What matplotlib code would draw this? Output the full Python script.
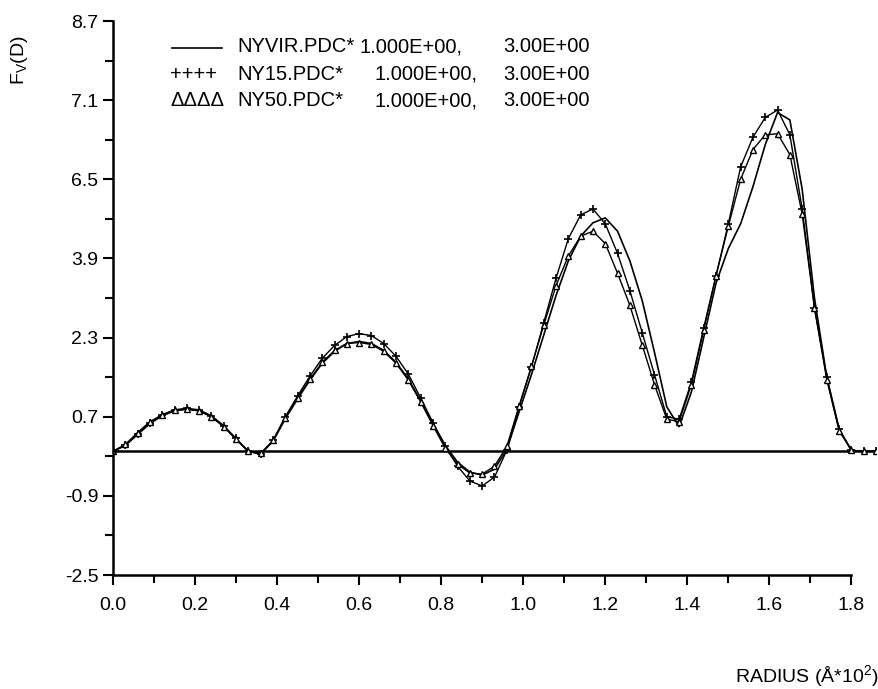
import numpy as np
import matplotlib
matplotlib.use('Agg')
from matplotlib import pyplot as plt
from matplotlib.lines import Line2D

plt.rcParams['font.family'] = ['Liberation Sans', 'DejaVu Sans']

# radius (A*10^2), sampled every 0.03
radius = [0.00, 0.03, 0.06, 0.09, 0.12, 0.15, 0.18, 0.21, 0.24, 0.27,
          0.30, 0.33, 0.36, 0.39, 0.42, 0.45, 0.48, 0.51, 0.54, 0.57,
          0.60, 0.63, 0.66, 0.69, 0.72, 0.75, 0.78, 0.81, 0.84, 0.87,
          0.90, 0.93, 0.96, 0.99, 1.02, 1.05, 1.08, 1.11, 1.14, 1.17,
          1.20, 1.23, 1.26, 1.29, 1.32, 1.35, 1.38, 1.41, 1.44, 1.47,
          1.50, 1.53, 1.56, 1.59, 1.62, 1.65, 1.68, 1.71, 1.74, 1.77,
          1.80, 1.83, 1.86]

nyvir = [0.00, 0.12, 0.34, 0.56, 0.72, 0.82, 0.85, 0.82, 0.70, 0.50,
         0.25, 0.00, -0.05, 0.20, 0.66, 1.06, 1.44, 1.78, 2.02, 2.18,
         2.22, 2.18, 2.04, 1.80, 1.46, 1.02, 0.56, 0.12, -0.22, -0.42,
         -0.48, -0.36, 0.04, 0.80, 1.55, 2.35, 3.15, 3.85, 4.35, 4.62,
         4.72, 4.45, 3.85, 3.05, 2.00, 0.90, 0.50, 1.20, 2.30, 3.40,
         4.10, 4.60, 5.35, 6.20, 6.85, 6.70, 5.30, 3.10, 1.50, 0.45,
         0.02, 0.00, 0.00]

ny15 = [0.00, 0.12, 0.36, 0.58, 0.74, 0.84, 0.87, 0.84, 0.72, 0.52,
        0.26, 0.00, -0.06, 0.22, 0.70, 1.12, 1.52, 1.88, 2.14, 2.32,
        2.38, 2.34, 2.18, 1.92, 1.56, 1.08, 0.58, 0.10, -0.30, -0.60,
        -0.70, -0.52, 0.02, 0.90, 1.70, 2.60, 3.50, 4.30, 4.78, 4.90,
        4.60, 4.00, 3.25, 2.40, 1.55, 0.70, 0.65, 1.40, 2.50, 3.55,
        4.60, 5.75, 6.35, 6.75, 6.90, 6.40, 4.90, 2.90, 1.50, 0.45,
        0.02, 0.00, 0.00]

ny50 = [0.00, 0.14, 0.38, 0.60, 0.74, 0.83, 0.86, 0.82, 0.70, 0.50,
        0.24, 0.00, -0.04, 0.22, 0.68, 1.08, 1.46, 1.80, 2.04, 2.18,
        2.20, 2.16, 2.02, 1.78, 1.44, 1.00, 0.52, 0.06, -0.26, -0.44,
        -0.46, -0.30, 0.10, 0.92, 1.72, 2.55, 3.35, 3.95, 4.35, 4.45,
        4.20, 3.60, 2.95, 2.15, 1.35, 0.65, 0.60, 1.35, 2.45, 3.55,
        4.55, 5.50, 6.10, 6.40, 6.42, 6.00, 4.80, 2.90, 1.45, 0.42,
        0.02, 0.00, 0.00]

ytick_vals = [-2.5, -0.9, 0.7, 2.3, 3.9, 5.5, 7.1, 8.7]
ytick_labels = ['-2.5', '-0.9', '0.7', '2.3', '3.9', '6.5', '7.1', '8.7']
xtick_vals = [0.0, 0.2, 0.4, 0.6, 0.8, 1.0, 1.2, 1.4, 1.6, 1.8]

W, H = 879, 689
fig = plt.figure(figsize=(W / 100, H / 100), dpi=100)
ax = fig.add_axes([113 / W, 114 / H, (876 - 113) / W, (575 - 21) / H])

ax.axhline(0, color='black', lw=1.8)
ax.plot(radius, nyvir, color='black', lw=1.2)
ax.plot(radius, ny15, color='black', lw=1.0, marker='+', ms=6, mew=1.2)
ax.plot(radius, ny50, color='black', lw=1.0, marker='^', ms=4.5, mew=1.0,
        mfc='white')

ax.set_xlim(0, 1.86)
ax.set_ylim(-2.5, 8.7)

for s in ['top', 'right']:
    ax.spines[s].set_visible(False)
ax.spines['left'].set_linewidth(1.8)
ax.spines['bottom'].set_linewidth(1.8)
ax.spines['bottom'].set_bounds(0, 1.8)

ax.set_xticks(xtick_vals)
ax.set_xticklabels(['%.1f' % v for v in xtick_vals])
ax.set_xticks(np.arange(0.1, 1.8, 0.2), minor=True)
ax.set_yticks(ytick_vals)
ax.set_yticklabels(ytick_labels)
ax.set_yticks(np.arange(-1.7, 8.7, 1.6), minor=True)
ax.tick_params(axis='both', which='both', direction='out', width=1.5,
               labelsize=14)
ax.tick_params(axis='both', which='major', length=7)
ax.tick_params(axis='both', which='minor', length=6)
ax.tick_params(axis='x', pad=9)

# axis titles
fig.text(20 / W, 1 - 60 / H, r'F$_\mathregular{V}$(D)', rotation=90,
         ha='center', va='center', fontsize=14)
fig.text(735 / W, 1 - 677 / H, r'RADIUS (Å*10$^\mathregular{2}$)',
         ha='left', va='center', fontsize=14)

# legend drawn as text like the original
fig.add_artist(Line2D([172 / W, 222 / W], [1 - 48 / H, 1 - 48 / H],
                      color='black', lw=1.2))
fig.text(170 / W, 1 - 74 / H, '++++', ha='left', va='center', fontsize=14.5)
fig.text(170 / W, 1 - 101 / H, 'ΔΔΔΔ', ha='left', va='center', fontsize=14.5)
names = ['NYVIR.PDC*', 'NY15.PDC*', 'NY50.PDC*']
val_x = [360, 375, 375]
rows = [47, 74, 101]
for n, vx, r in zip(names, val_x, rows):
    fig.text(237 / W, 1 - r / H, n, ha='left', va='center', fontsize=14.5)
    fig.text(vx / W, 1 - r / H, '1.000E+00,', ha='left', va='center',
             fontsize=14.5)
    fig.text(590 / W, 1 - r / H, '3.00E+00', ha='right', va='center',
             fontsize=14.5)

fig.savefig('out.png', dpi=100)
